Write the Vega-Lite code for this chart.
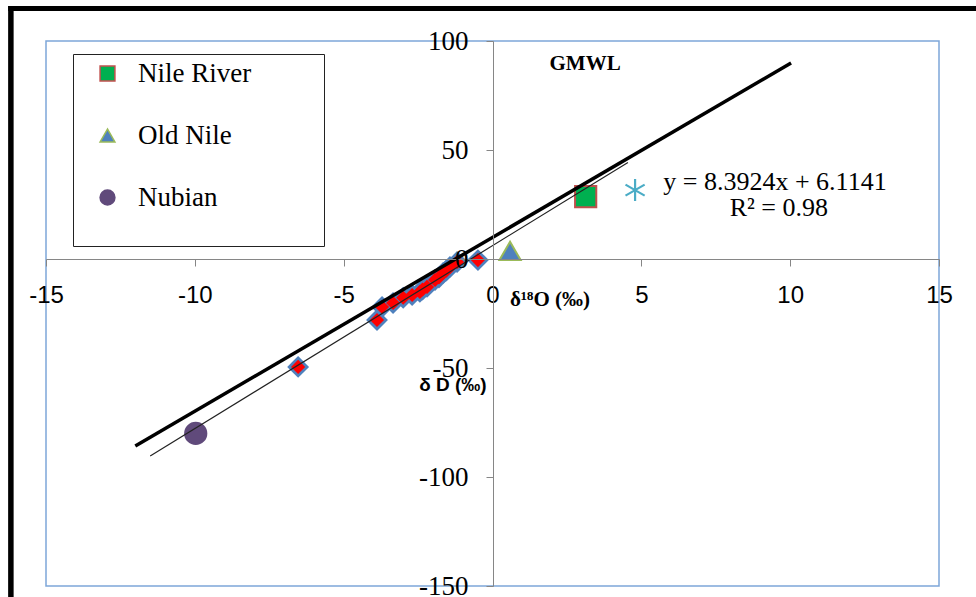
{
  "$schema": "https://vega.github.io/schema/vega-lite/v6.json",
  "width": 893,
  "height": 545,
  "autosize": {"type": "none"},
  "padding": {"left": 46, "top": 41, "right": 37, "bottom": 11},
  "background": "white",
  "config": {"view": {"stroke": "#7DA7D9", "strokeWidth": 1.5}},
  "datasets": {
    "samples": [
      {"x": -6.53, "y": -49.5},
      {"x": -3.88, "y": -28.0},
      {"x": -3.71, "y": -22.0},
      {"x": -3.34, "y": -20.2},
      {"x": -3.0, "y": -17.8},
      {"x": -2.7, "y": -16.5},
      {"x": -2.44, "y": -15.1},
      {"x": -2.35, "y": -14.0},
      {"x": -2.2, "y": -12.8},
      {"x": -1.93, "y": -9.6},
      {"x": -1.8, "y": -8.5},
      {"x": -1.66, "y": -6.4},
      {"x": -1.55, "y": -5.3},
      {"x": -1.43, "y": -3.7},
      {"x": -1.19, "y": -1.4},
      {"x": -0.49, "y": -0.5}
    ],
    "groups": [
      {"series": "Nile River", "x": 3.13, "y": 28.6},
      {"series": "Old Nile", "x": 0.59, "y": 3.7},
      {"series": "Nubian", "x": -9.97, "y": -80.0}
    ],
    "other": [{"x": 4.79, "y": 31.6}],
    "gmwl": [{"x": -12.0, "y": -85.8}, {"x": 10.03, "y": 89.9}],
    "fit": [{"x": -11.5, "y": -90.4}, {"x": 4.55, "y": 44.3}],
    "frameLeft": [{"x": -16.18, "y": 116.0, "y2": -160}],
    "frameTop": [{"x": -16.27, "x2": 17, "y": 114.9}]
  },
  "encoding": {
    "x": {
      "field": "x",
      "type": "quantitative",
      "scale": {"domain": [-15, 15], "nice": false, "zero": false},
      "axis": {
        "orient": "bottom",
        "offset": -327,
        "zindex": 1,
        "values": [-15, -10, -5, 0, 5, 10, 15],
        "labelExpr": "'' + datum.value",
        "title": null,
        "grid": false,
        "domainColor": "#868686",
        "domainWidth": 1,
        "tickColor": "#868686",
        "tickSize": 7,
        "labelFont": "Liberation Sans",
        "labelFontSize": 24,
        "labelColor": "black",
        "labelPadding": 17,
        "labelFlush": false,
        "labelOverlap": false,
        "labelBound": false
      }
    },
    "y": {
      "field": "y",
      "type": "quantitative",
      "scale": {"domain": [-150, 100], "nice": false, "zero": false},
      "axis": {
        "orient": "left",
        "offset": -447,
        "zindex": 1,
        "values": [-150, -100, -50, 0, 50, 100],
        "labelExpr": "'' + datum.value",
        "title": null,
        "grid": false,
        "domainColor": "#868686",
        "domainWidth": 1,
        "tickColor": "#868686",
        "tickSize": 7,
        "labelFont": "Liberation Serif",
        "labelFontSize": 27,
        "labelColor": "black",
        "labelPadding": 18,
        "labelFlush": false,
        "labelOverlap": false,
        "labelBound": false
      }
    }
  },
  "layer": [
    {
      "data": {"name": "samples"},
      "mark": {"type": "point", "shape": "diamond", "filled": true, "fill": "#4F81BD", "size": 480, "strokeWidth": 0, "opacity": 1}
    },
    {
      "data": {"name": "samples"},
      "mark": {"type": "point", "shape": "diamond", "filled": true, "fill": "#FF0000", "size": 200, "strokeWidth": 0, "opacity": 1}
    },
    {
      "data": {"name": "groups"},
      "mark": {"type": "point", "filled": true, "size": 450, "strokeWidth": 2, "opacity": 1},
      "encoding": {
        "shape": {
          "field": "series",
          "type": "nominal",
          "scale": {"domain": ["Nile River", "Old Nile", "Nubian"], "range": ["square", "triangle-up", "circle"]}
        },
        "fill": {
          "field": "series",
          "type": "nominal",
          "scale": {"domain": ["Nile River", "Old Nile", "Nubian"], "range": ["#00B050", "#4F81BD", "#604A7B"]},
          "legend": {
            "orient": "none",
            "legendX": 27,
            "legendY": 13,
            "strokeColor": "#222222",
            "fillColor": "white",
            "padding": 6,
            "symbolOffset": 15,
            "symbolSize": 220,
            "symbolStrokeWidth": 1.5,
            "labelFont": "Liberation Serif",
            "labelFontSize": 27,
            "labelColor": "black",
            "labelOffset": 17,
            "labelLimit": 400,
            "rowPadding": 34,
            "title": "\u200b\u00a0\u00a0\u00a0\u00a0\u00a0\u00a0\u00a0\u00a0\u00a0\u00a0\u00a0\u00a0\u00a0\u00a0\u00a0\u00a0\u00a0\u00a0\u00a0\u00a0\u00a0\u00a0\u00a0\u00a0\u00a0\u00a0\u00a0\u00a0\u00a0\u00a0\u00a0\u00a0\u00a0\u00a0\u00a0\u00a0\u00a0\u00a0\u00a0\u00a0\u00a0\u00a0\u00a0\u200b",
            "titleOrient": "bottom",
            "titleFont": "Liberation Sans",
            "titleFontSize": 20,
            "titlePadding": 9,
            "titleLimit": 1000,
            "encode": {"legend": {"update": {"strokeWidth": {"value": 1.2}}}}
          }
        },
        "stroke": {
          "field": "series",
          "type": "nominal",
          "scale": {"domain": ["Nile River", "Old Nile", "Nubian"], "range": ["#C0504D", "#9BBB59", "#604A7B"]}
        }
      }
    },
    {
      "data": {"name": "other"},
      "mark": {"type": "point", "shape": "M0,-1L0,1M-0.87,-0.5L0.87,0.5M-0.87,0.5L0.87,-0.5", "filled": false, "stroke": "#4BACC6", "strokeWidth": 2.2, "size": 484, "opacity": 1}
    },
    {
      "data": {"name": "gmwl"},
      "mark": {"type": "line", "color": "black", "strokeWidth": 3.5}
    },
    {
      "data": {"name": "fit"},
      "mark": {"type": "line", "color": "#222222", "strokeWidth": 1.2}
    },
    {
      "data": {"values": [{"x": 3.11, "y": 89.45, "label": "GMWL"}]},
      "mark": {"type": "text", "font": "Liberation Serif", "fontWeight": "bold", "fontSize": 21, "color": "black", "align": "center", "baseline": "middle"},
      "encoding": {"text": {"field": "label"}}
    },
    {
      "data": {"values": [{"x": 1.93, "y": -18.8, "label": "δ¹⁸O (‰)"}]},
      "mark": {"type": "text", "font": "Liberation Serif", "fontWeight": "bold", "fontSize": 21, "color": "black", "align": "center", "baseline": "middle"},
      "encoding": {"text": {"field": "label"}}
    },
    {
      "data": {"values": [{"x": -1.33, "y": -57.8, "label": "δ D (‰)"}]},
      "mark": {"type": "text", "font": "Liberation Sans", "fontWeight": "bold", "fontSize": 19, "color": "black", "align": "center", "baseline": "middle"},
      "encoding": {"text": {"field": "label"}}
    },
    {
      "data": {"values": [
        {"x": 9.49, "y": 35.3, "label": "y = 8.3924x + 6.1141"},
        {"x": 9.62, "y": 23.6, "label": "R² = 0.98"}
      ]},
      "mark": {"type": "text", "font": "Liberation Serif", "fontSize": 26, "color": "black", "align": "center", "baseline": "middle"},
      "encoding": {"text": {"field": "label"}}
    },
    {
      "data": {"name": "frameLeft"},
      "mark": {"type": "rule", "color": "black", "strokeWidth": 5.5},
      "encoding": {"y2": {"field": "y2"}}
    },
    {
      "data": {"name": "frameTop"},
      "mark": {"type": "rule", "color": "black", "strokeWidth": 5},
      "encoding": {"x2": {"field": "x2"}}
    }
  ]
}
